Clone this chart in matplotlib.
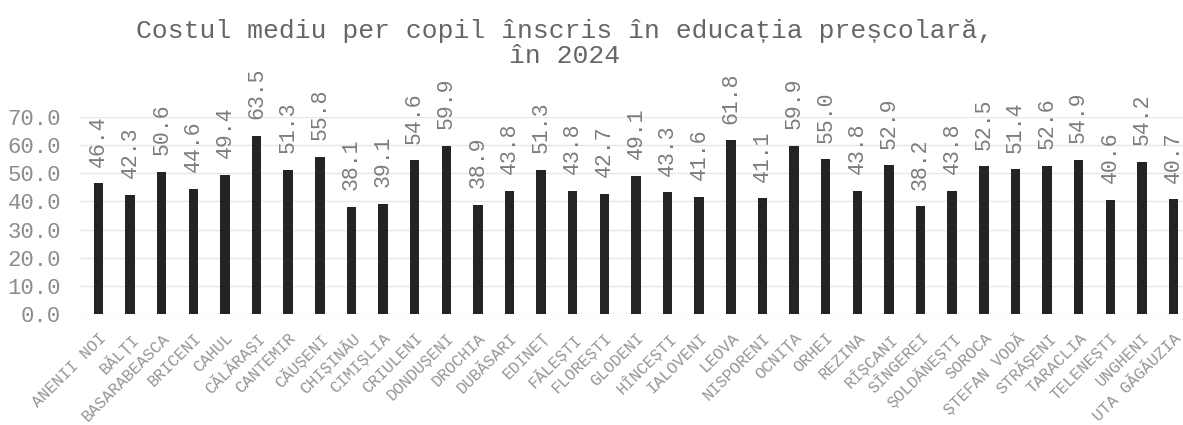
import numpy as np
import matplotlib
matplotlib.use("Agg")
from matplotlib import pyplot as plt

# raioane and average cost per enrolled child (thousand lei)
raioane = ["ANENII NOI", "BĂLȚI", "BASARABEASCA", "BRICENI", "CAHUL",
           "CĂLĂRAȘI", "CANTEMIR", "CĂUȘENI", "CHIȘINĂU", "CIMIȘLIA",
           "CRIULENI", "DONDUȘENI", "DROCHIA", "DUBĂSARI", "EDINEȚ",
           "FĂLEȘTI", "FLOREȘTI", "GLODENI", "HÎNCEȘTI", "IALOVENI",
           "LEOVA", "NISPORENI", "OCNIȚA", "ORHEI", "REZINA",
           "RÎȘCANI", "SÎNGEREI", "ȘOLDĂNEȘTI", "SOROCA", "ȘTEFAN VODĂ",
           "STRĂȘENI", "TARACLIA", "TELENEȘTI", "UNGHENI", "UTA GĂGĂUZIA"]
cost = [46.4, 42.3, 50.6, 44.6, 49.4, 63.5, 51.3, 55.8, 38.1, 39.1,
        54.6, 59.9, 38.9, 43.8, 51.3, 43.8, 42.7, 49.1, 43.3, 41.6,
        61.8, 41.1, 59.9, 55.0, 43.8, 52.9, 38.2, 43.8, 52.5, 51.4,
        52.6, 54.9, 40.6, 54.2, 40.7]
yticks = [0, 10, 20, 30, 40, 50, 60, 70]

mono = ["Liberation Mono", "DejaVu Sans Mono"]
plt.rcParams["font.family"] = mono

fig = plt.figure(figsize=(11.83, 4.25), dpi=100)
ax = fig.add_axes([0.068, 0.262, 0.932, 0.462])

x = np.arange(len(raioane))
ax.bar(x, cost, width=0.3, color="#242424", zorder=3)
for xi, v in zip(x, cost):
    ax.annotate("%.1f" % v, (xi, v), xytext=(0, 12), textcoords="offset points",
                rotation=90, ha="center", va="bottom", fontsize=15.5,
                color="#7c7c7c", annotation_clip=False)

ax.set_xlim(-0.57, len(raioane) - 0.7)
ax.set_ylim(0, 70)
ax.set_yticks(yticks)
ax.set_yticklabels(["%.1f" % t for t in yticks], fontsize=16, color="#8c8c8c")
ax.set_xticks(x)
ax.set_xticklabels(raioane, rotation=45, ha="right", rotation_mode="anchor",
                   fontsize=11.7, color="#959595")
ax.tick_params(axis="both", length=0)
ax.tick_params(axis="y", pad=14)
ax.tick_params(axis="x", pad=12)
ax.grid(axis="y", color="#e6e6e6", linewidth=1, zorder=0)
for s in ax.spines.values():
    s.set_visible(False)

fig.text(0.477, 0.955, "Costul mediu per copil înscris în educația preșcolară,\nîn 2024",
         ha="center", va="top", fontsize=19, color="#666666", linespacing=1.05)

fig.savefig("out.png", dpi=100)
